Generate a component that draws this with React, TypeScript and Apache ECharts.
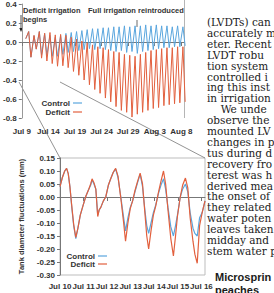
import React, { useEffect, useRef } from "react";
import * as echarts from "echarts";

const overviewTickLabels = ["Jul 9", "Jul 14", "Jul 19", "Jul 24", "Jul 29", "Aug 3", "Aug 8"];
const detailTickLabels = ["Jul 10", "Jul 11", "Jul 12", "Jul 13", "Jul 14", "Jul 15", "Jul 16"];

// Daily maxima (early morning) and minima (mid-afternoon), Jul 10 – Aug 8, in mm
const controlDailyMax = [0.11, 0.065, 0.11, 0.088, 0.07, 0.05, 0.07, 0.09, 0.1, 0.11, 0.12, 0.13, 0.14, 0.14, 0.15, 0.15, 0.16, 0.16, 0.17, 0.16, 0.17, 0.17, 0.18, 0.17, 0.18, 0.17, 0.17, 0.16, 0.17, 0.16];
const controlDailyMin = [-0.16, -0.075, -0.135, -0.14, -0.15, -0.15, -0.13, -0.11, -0.1, -0.09, -0.08, -0.07, -0.08, -0.07, -0.08, -0.09, -0.1, -0.09, -0.11, -0.1, -0.12, -0.1, -0.09, -0.08, -0.07, -0.06, -0.06, -0.05, -0.05, -0.04];
const deficitDailyMax = [0.11, 0.07, 0.11, 0.092, 0.1, 0.075, 0.08, 0.07, 0.05, 0.03, 0.01, -0.01, -0.03, -0.05, -0.06, -0.08, -0.1, -0.11, -0.13, -0.14, -0.15, -0.13, -0.11, -0.09, -0.08, -0.07, -0.06, -0.06, -0.05, -0.05];
const deficitDailyMin = [-0.16, -0.075, -0.17, -0.2, -0.227, -0.255, -0.25, -0.27, -0.31, -0.35, -0.4, -0.45, -0.5, -0.54, -0.59, -0.63, -0.68, -0.72, -0.74, -0.79, -0.76, -0.74, -0.72, -0.7, -0.69, -0.67, -0.66, -0.65, -0.64, -0.63];
const firstReading = 0.035; // evening of Jul 9

// Detailed record, days after Jul 10 00:00, in mm
const detailTimes = [0.0, 0.1, 0.2, 0.28, 0.35, 0.42, 0.5, 0.58, 0.67, 0.76, 0.86, 0.97, 1.1, 1.22, 1.3, 1.36, 1.44, 1.52, 1.6, 1.66, 1.73, 1.84, 1.94, 2.05, 2.15, 2.26, 2.36, 2.46, 2.58, 2.7, 2.78, 2.88, 2.98, 3.08, 3.18, 3.29, 3.4, 3.5, 3.6, 3.68, 3.76, 3.86, 3.96, 4.06, 4.18, 4.28, 4.39, 4.48, 4.58, 4.7, 4.81, 4.9, 4.98, 5.1, 5.2, 5.32, 5.42, 5.52, 5.64, 5.72, 5.82, 5.92, 6.03, 6.15];
const detailControl = [0.04, 0.075, 0.1, 0.11, 0.09, 0.04, -0.04, -0.11, -0.16, -0.12, -0.07, -0.035, 0.004, 0.03, 0.045, 0.065, 0.05, 0.03, -0.07, -0.05, -0.04, -0.015, 0.0, 0.045, 0.07, 0.095, 0.108, 0.075, 0.0, -0.08, -0.13, -0.08, -0.04, -0.015, 0.02, 0.055, 0.088, 0.04, -0.05, -0.11, -0.14, -0.1, -0.06, -0.03, 0.015, 0.045, 0.07, 0.03, -0.04, -0.115, -0.15, -0.11, -0.07, 0.0, 0.03, 0.05, 0.02, -0.06, -0.12, -0.14, -0.15, -0.08, -0.06, -0.015];
const detailDeficit = [0.04, 0.075, 0.1, 0.11, 0.09, 0.04, -0.035, -0.105, -0.155, -0.12, -0.07, -0.035, 0.004, 0.03, 0.05, 0.07, 0.055, 0.03, -0.075, -0.05, -0.04, -0.015, 0.0, 0.045, 0.07, 0.095, 0.11, 0.08, -0.005, -0.1, -0.17, -0.1, -0.045, -0.015, 0.025, 0.06, 0.092, 0.05, -0.06, -0.15, -0.2, -0.13, -0.07, -0.035, 0.02, 0.06, 0.1, 0.05, -0.05, -0.16, -0.227, -0.15, -0.075, 0.0, 0.045, 0.073, 0.035, -0.08, -0.17, -0.22, -0.255, -0.11, -0.06, -0.015];

// Article text set beside the figure
const bodyLines = [
  "(LVDTs) can",
  "accurately m",
  "eter. Recent",
  "LVDT robu",
  "tion system",
  "controlled i",
  "ing this inst",
  "in irrigation",
  "  We unde",
  "observe the",
  "mounted LV",
  "changes in p",
  "tus during d",
  "recovery fro",
  "terest was h",
  "derived mea",
  "the onset of",
  "they related",
  "water poten",
  "leaves taken",
  "midday and",
  "stem water p",
];
const headingLines = ["Microsprin", "peaches"];

const CONTROL = "#5aa6de";
const DEFICIT = "#e2603e";
const INK = "#333333";
const SANS = "'Liberation Sans', Arial, Helvetica, sans-serif";

const MAX_AT = 0.3;
const MIN_AT = 0.72;

function dailySeries(maxes: number[], mins: number[]) {
  const pts: number[][] = [[0.75, firstReading]];
  maxes.forEach((mx, i) => {
    pts.push([i + 1 + MAX_AT, mx]);
    pts.push([i + 1 + MIN_AT, mins[i]]);
  });
  return pts;
}

function pairs(xs: number[], ys: number[]) {
  return xs.map((x, i) => [x, ys[i]]);
}

function legendGroup(right: number, y: number, gap: number) {
  const items = [
    { name: "Control", color: CONTROL },
    { name: "Deficit", color: DEFICIT },
  ];
  const out: any[] = [];
  items.forEach((it, i) => {
    const yy = y + i * gap;
    out.push({
      type: "text",
      silent: true,
      style: {
        text: it.name,
        x: right,
        y: yy,
        textAlign: "right",
        textVerticalAlign: "middle",
        fill: INK,
        fontSize: 8,
        fontWeight: "bold",
        fontFamily: SANS,
      },
    });
    out.push({
      type: "line",
      silent: true,
      shape: { x1: right + 3, y1: yy, x2: right + 12, y2: yy },
      style: { stroke: it.color, lineWidth: 1.2 },
    });
  });
  return out;
}

export default function App() {
  const ref = useRef<HTMLDivElement>(null);

  useEffect(() => {
    if (!ref.current) return;
    const chart = echarts.init(ref.current, null, { renderer: "svg" });

    const axisFont = { fontSize: 8, fontWeight: "bold" as const, fontFamily: SANS, color: INK };

    const graphic: any[] = [
      // frame edge on the right of the overview
      { type: "line", silent: true, shape: { x1: 184.5, y1: 0, x2: 184.5, y2: 118 }, style: { stroke: "#b5b5b5", lineWidth: 1 } },
      // connectors from the overview to the enlarged week
      { type: "line", silent: true, shape: { x1: 19, y1: 82, x2: 60, y2: 158 }, style: { stroke: "#777", lineWidth: 0.8 } },
      { type: "line", silent: true, shape: { x1: 60, y1: 82, x2: 205, y2: 158 }, style: { stroke: "#777", lineWidth: 0.8 } },
      // annotations
      {
        type: "text", silent: true,
        style: { text: "Deficit irrigation\nbegins", x: 23, y: 6, lineHeight: 9, fill: INK, fontSize: 7.5, fontWeight: "bold", fontFamily: SANS },
      },
      { type: "line", silent: true, shape: { x1: 21, y1: 15, x2: 21, y2: 30 }, style: { stroke: "#222", lineWidth: 0.8 } },
      { type: "polygon", silent: true, shape: { points: [[19.3, 28], [22.7, 28], [21, 32]] }, style: { fill: "#222" } },
      {
        type: "text", silent: true,
        style: { text: "Full irrigation reintroduced", x: 88, y: 6, fill: INK, fontSize: 7.5, fontWeight: "bold", fontFamily: SANS },
      },
      { type: "line", silent: true, shape: { x1: 137, y1: 20, x2: 137, y2: 27 }, style: { stroke: "#444", lineWidth: 0.8 } },
      ...legendGroup(70, 103, 9),
      ...legendGroup(95, 256, 8),
    ];

    bodyLines.forEach((t, i) => {
      graphic.push({
        type: "text",
        silent: true,
        style: {
          text: t,
          x: t.startsWith("  ") ? 214 : 207,
          y: 22 + 10.9 * i,
          textVerticalAlign: "middle",
          fill: "#1b1b1b",
          fontSize: 10.5,
          fontFamily: "'DejaVu Serif', 'Liberation Serif', serif",
        },
      });
    });
    headingLines.forEach((t, i) => {
      graphic.push({
        type: "text",
        silent: true,
        style: {
          text: t,
          x: 215,
          y: 277 + 13 * i,
          textVerticalAlign: "middle",
          fill: "#1b1b1b",
          fontSize: 11,
          fontWeight: "bold",
          fontFamily: SANS,
        },
      });
    });

    const option: any = {
      animation: false,
      backgroundColor: "#ffffff",
      grid: [
        { left: 17, top: 4, width: 167, height: 114, show: false },
        { left: 60, top: 158, width: 145, height: 117, show: true, borderColor: "#bdbdbd", borderWidth: 1, backgroundColor: "transparent" },
      ],
      xAxis: [
        {
          gridIndex: 0, type: "value", min: 0, max: 30.5, interval: 5,
          axisLine: { lineStyle: { color: "#777", width: 1 } },
          axisTick: { length: 4, lineStyle: { color: "#777" } },
          splitLine: { show: false },
          axisLabel: {
            ...axisFont, margin: 9, showMaxLabel: false,
            formatter: (v: number) => (Number.isInteger(v / 5) ? overviewTickLabels[v / 5] ?? "" : ""),
          },
        },
        {
          gridIndex: 1, type: "value", min: 0, max: 6.15, interval: 1,
          axisLine: { lineStyle: { color: "#777", width: 1 } },
          axisTick: { length: 4, lineStyle: { color: "#777" } },
          splitLine: { show: false },
          axisLabel: {
            ...axisFont, margin: 7, showMaxLabel: false,
            formatter: (v: number) => (Number.isInteger(v) ? detailTickLabels[v] ?? "" : ""),
          },
        },
      ],
      yAxis: [
        {
          gridIndex: 0, type: "value", min: -0.8, max: 0.4, interval: 0.2,
          axisLine: { show: true, lineStyle: { color: "#999", width: 1 } },
          axisTick: { show: true, length: 3, lineStyle: { color: "#777" } },
          splitLine: { show: false },
          axisLabel: { ...axisFont, margin: 5, formatter: (v: number) => v.toFixed(1) },
        },
        {
          gridIndex: 1, type: "value", min: -0.3, max: 0.15, interval: 0.05,
          name: "Tank diameter fluctuations (mm)",
          nameLocation: "middle",
          nameGap: 27,
          nameTextStyle: { fontSize: 7.5, fontWeight: "bold", fontFamily: SANS, color: INK },
          axisLine: { show: true, lineStyle: { color: "#777", width: 1 } },
          axisTick: { show: true, length: 3, lineStyle: { color: "#777" } },
          splitLine: { show: false },
          axisLabel: { ...axisFont, margin: 5, formatter: (v: number) => v.toFixed(2) },
        },
      ],
      series: [
        {
          name: "Control", type: "line", xAxisIndex: 0, yAxisIndex: 0,
          data: dailySeries(controlDailyMax, controlDailyMin),
          showSymbol: false, lineStyle: { color: CONTROL, width: 1 }, itemStyle: { color: CONTROL },
        },
        {
          name: "Deficit", type: "line", xAxisIndex: 0, yAxisIndex: 0,
          data: dailySeries(deficitDailyMax, deficitDailyMin),
          showSymbol: false, lineStyle: { color: DEFICIT, width: 1 }, itemStyle: { color: DEFICIT },
        },
        {
          name: "Control", type: "line", xAxisIndex: 1, yAxisIndex: 1,
          data: pairs(detailTimes, detailControl),
          showSymbol: false, lineStyle: { color: CONTROL, width: 1.2 }, itemStyle: { color: CONTROL },
        },
        {
          name: "Deficit", type: "line", xAxisIndex: 1, yAxisIndex: 1,
          data: pairs(detailTimes, detailDeficit),
          showSymbol: false, lineStyle: { color: DEFICIT, width: 1.2 }, itemStyle: { color: DEFICIT },
        },
      ],
      graphic,
    };

    chart.setOption(option);
    return () => chart.dispose();
  }, []);

  return (
    <div style={{ position: "fixed", left: 0, top: 0, width: 274, height: 293, overflow: "hidden", background: "#fff" }}>
      <div ref={ref} style={{ width: 274, height: 293 }} />
    </div>
  );
}
